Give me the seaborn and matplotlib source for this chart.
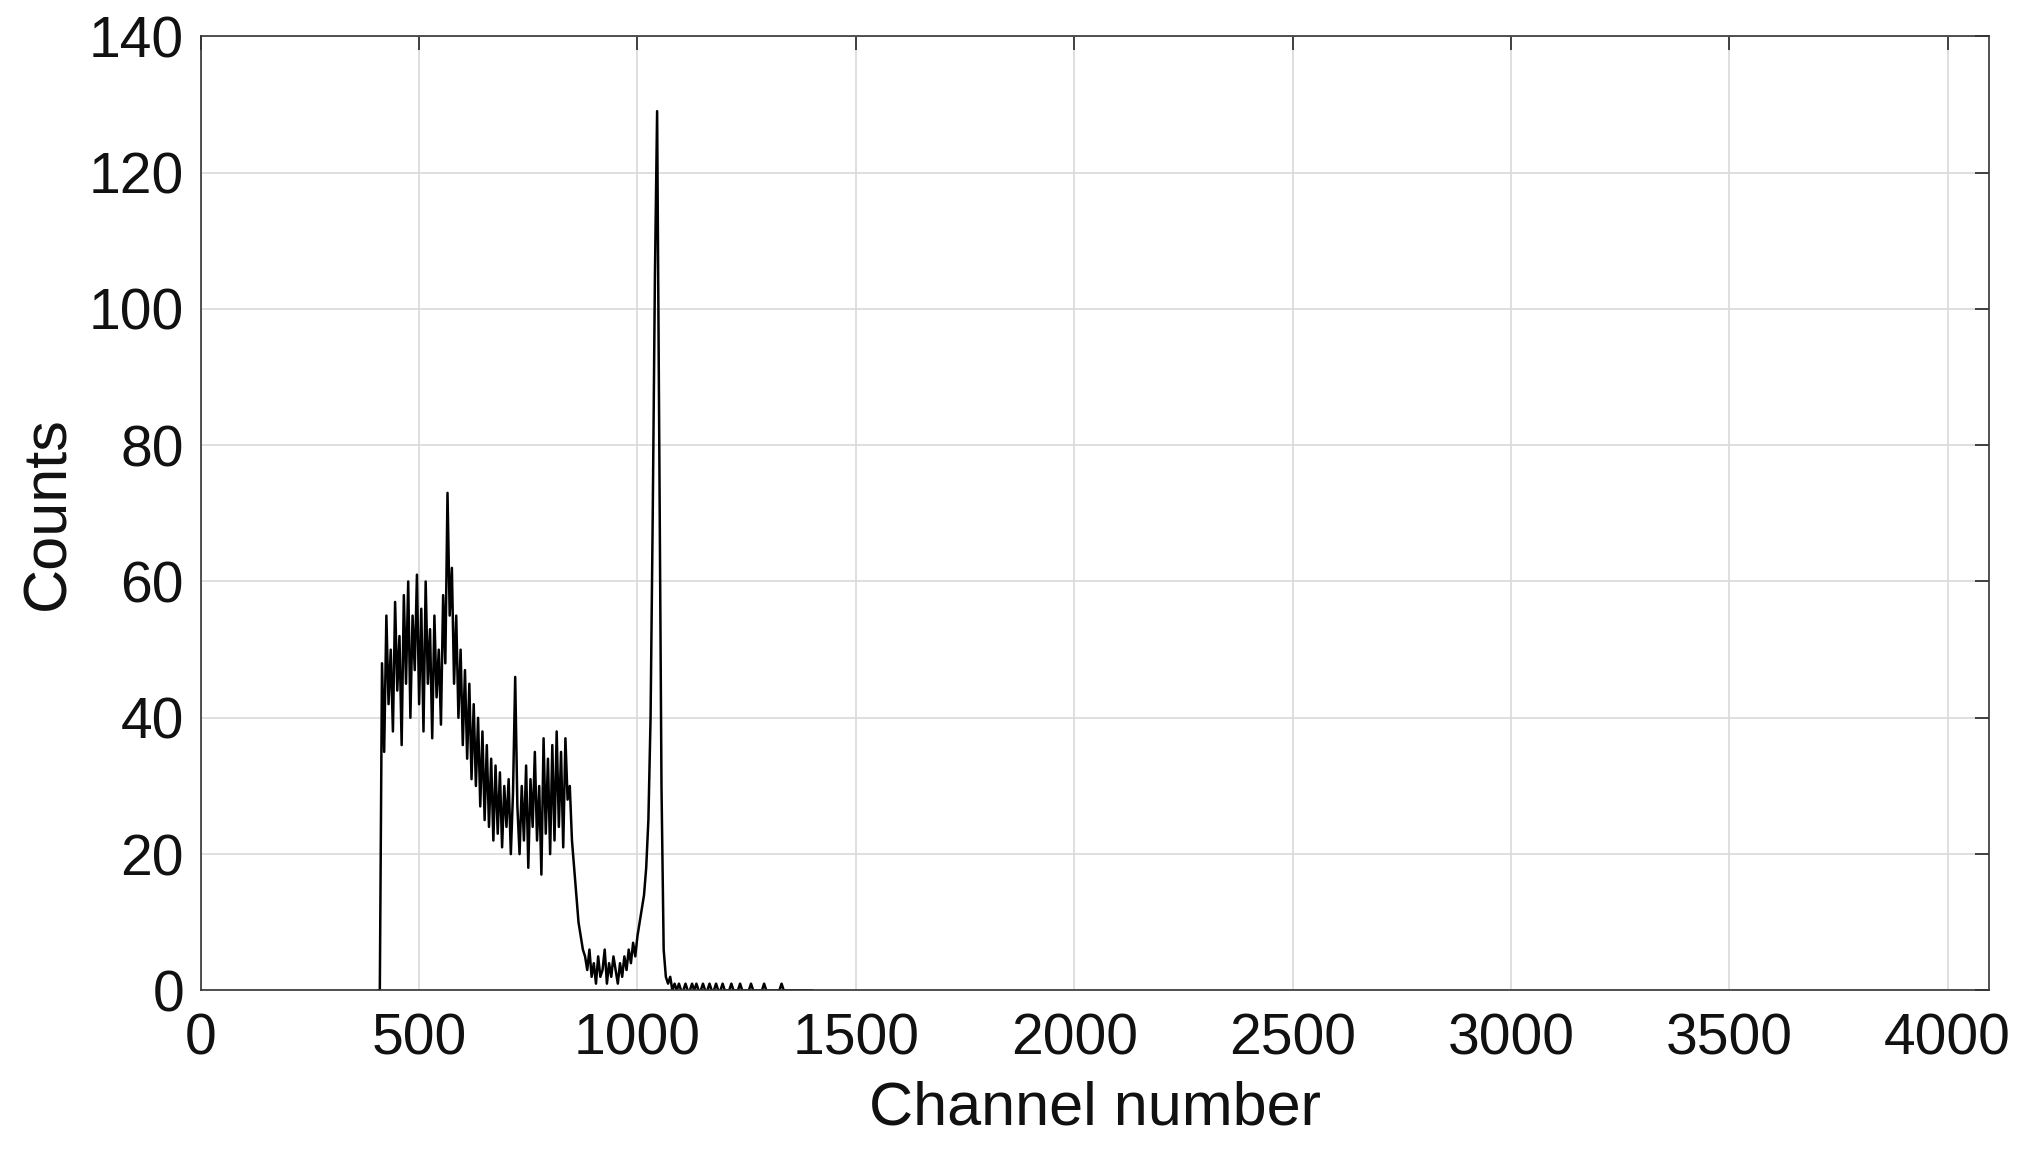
import matplotlib
matplotlib.use("Agg")
import matplotlib.pyplot as plt
import seaborn as sns
import pandas as pd

channels = list(range(405, 1405, 5))
counts_main = [0, 0, 48, 35, 55, 42, 50, 38, 57, 44, 52, 36, 58, 45, 60, 40, 55, 47, 61, 42,
               56, 38, 60, 45, 53, 37, 55, 43, 50, 39, 58, 48, 73, 55, 62, 45, 55, 40, 50, 36,
               47, 34, 45, 31, 42, 30, 40, 27, 38, 25, 36, 24, 34, 22, 33, 23, 32, 21, 30, 24,
               31, 20, 29, 46, 27, 20, 30, 22, 33, 18, 31, 24, 35, 22, 30, 17, 37, 23, 34, 20,
               36, 22, 38, 24, 35, 21, 37, 28, 30, 22, 18, 14, 10, 8, 6, 5, 3, 6, 2, 4,
               1, 5, 2, 3, 6, 1, 4, 2, 5, 3, 1, 4, 2, 5, 3, 6, 4, 7, 5, 8,
               10, 12, 14, 18, 25, 40, 70, 105, 129, 80, 30, 6, 2, 1, 2, 0, 1, 0, 1, 0,
               0, 1, 0, 0, 1, 0, 1, 0, 0, 1, 0, 0, 1, 0, 0, 1, 0, 0, 1, 0,
               0, 0, 1, 0, 0, 0, 1, 0, 0, 0, 0, 1, 0, 0, 0, 0, 0, 1, 0, 0,
               0, 0, 0, 0, 0, 1, 0, 0, 0, 0, 0, 0, 0, 0, 0, 0, 0, 0, 0, 0]
counts = counts_main[:len(channels)]
x_ticks = [0, 500, 1000, 1500, 2000, 2500, 3000, 3500, 4000]
y_ticks = [0, 20, 40, 60, 80, 100, 120, 140]

df = pd.DataFrame({"Channel number": channels, "Counts": counts})

sns.set_style("white")
plt.rcParams['font.family'] = ['Liberation Sans', 'DejaVu Sans']
fig = plt.figure(figsize=(20.28, 11.68), dpi=100)
ax = fig.add_axes([0.099, 0.152, 0.882, 0.817])
sns.lineplot(data=df, x="Channel number", y="Counts", color="black", linewidth=1.8, ax=ax)
ax.set_xlim(0, 4096)
ax.set_ylim(0, 140)
ax.set_xticks(x_ticks)
ax.set_yticks(y_ticks)
ax.grid(True, color="#d9d9d9", linewidth=1.2)
ax.tick_params(direction="in", length=10, labelsize=41, top=True, right=True, width=1.2,
               labelcolor="#111111")
ax.tick_params(axis="x", pad=16)
ax.tick_params(axis="y", pad=12)
for s in ax.spines.values():
    s.set_color("#333333"); s.set_linewidth(1.2)
ax.set_xlabel("Channel number", fontsize=44, labelpad=10, color="#111111")
ax.set_ylabel("Counts", fontsize=44, labelpad=8, color="#111111")
fig.savefig("out.png", dpi=100, facecolor="white")
